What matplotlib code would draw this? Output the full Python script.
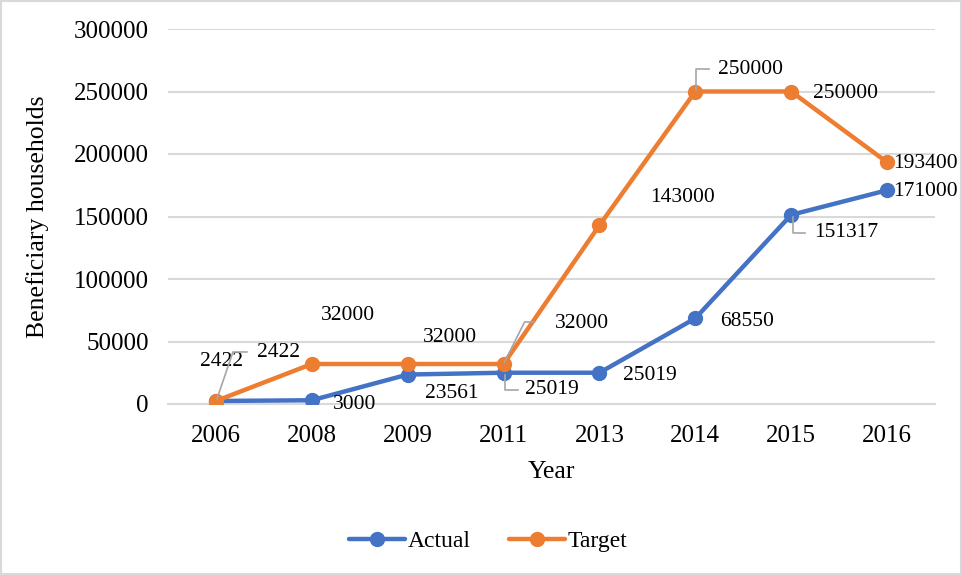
import matplotlib
matplotlib.use("Agg")
import matplotlib.pyplot as plt
from matplotlib.lines import Line2D
from matplotlib.patches import Rectangle

years = ["2006", "2008", "2009", "2011", "2013", "2014", "2015", "2016"]
actual = [2422, 3000, 23561, 25019, 25019, 68550, 151317, 171000]
target = [2422, 32000, 32000, 32000, 143000, 250000, 250000, 193400]
yticks = [0, 50000, 100000, 150000, 200000, 250000, 300000]

BLUE = "#4472C4"
ORANGE = "#ED7D31"
GRAY = "#D9D9D9"
LEAD = "#A6A6A6"

plt.rcParams["font.family"] = ["Liberation Serif", "DejaVu Serif"]

fig = plt.figure(figsize=(9.62, 5.75), dpi=100)
ax = fig.add_axes([168/962, 1-404/575, (935-168)/962, (404-29)/575])

x = list(range(len(years)))
ax.plot(x, actual, color=BLUE, lw=3.2, marker="o", ms=10, label="Actual", zorder=3,
        solid_capstyle="round")
ax.plot(x, target, color=ORANGE, lw=3.2, marker="o", ms=10, label="Target", zorder=4,
        solid_capstyle="round")

ax.set_xlim(-0.5, len(years)-0.5)
ax.set_ylim(0, 300000)
ax.set_yticks(yticks)
ax.set_yticklabels([str(v) for v in yticks])
ax.set_xticks(x)
ax.set_xticklabels(years)
ax.tick_params(axis="both", length=0, labelsize=18, colors="black")
ax.tick_params(axis="y", pad=14)
ax.tick_params(axis="x", pad=15)
ax.grid(axis="y", color=GRAY, lw=1.5)
ax.set_axisbelow(True)
for s in ["top", "right", "left"]:
    ax.spines[s].set_visible(False)
ax.spines["bottom"].set_color(GRAY)
ax.spines["bottom"].set_linewidth(1.5)

ax.set_xlabel("Year", fontsize=18.5, labelpad=10)
ax.set_ylabel("Beneficiary households", fontsize=18.5, labelpad=18)

# data labels: offsets in pixels (dx, dy up)
a_off = [(6, 39), (43, -4), (44, -19), (48, -17), (50, -3), (52, -3), (55, -18), (29, -1)]
t_off = [(63, 48), (36, 48), (42, 27), (78, 41), (83, 28), (55, 21.5), (54, -1.5), (29, -1)]
for i in x:
    ha = "left" if i == 7 else "center"
    dxa = 6 if i == 7 else a_off[i][0]
    dxt = 6 if i == 7 else t_off[i][0]
    ax.annotate(str(actual[i]), (i, actual[i]), xytext=(dxa, a_off[i][1]),
                textcoords="offset pixels", ha=ha, va="center", fontsize=15.5)
    ax.annotate(str(target[i]), (i, target[i]), xytext=(dxt, t_off[i][1]),
                textcoords="offset pixels", ha=ha, va="center", fontsize=15.5)

# leader lines (pixel offsets from point)
def leader(i, v, pts):
    px, py = ax.transData.transform((i, v))
    xs = [px + p[0] for p in pts]
    ys = [py + p[1] for p in pts]
    fig.add_artist(Line2D(xs, ys, transform=None, color=LEAD, lw=1.2, zorder=5))

leader(0, actual[0], [(1, 2), (17, 49), (31, 49)])
leader(3, actual[3], [(1, -2), (1, -17), (14, -17)])
leader(3, target[3], [(1, 2), (21, 42), (31, 42)])
leader(5, target[5], [(1, 2), (1, 23), (14, 23)])
leader(6, actual[6], [(2, -2), (2, -18), (14, -18)])

fig.legend(loc="center", bbox_to_anchor=(488/962, 1-541/575), ncol=2, frameon=False,
           fontsize=17, handlelength=2.4, columnspacing=1.6, handletextpad=0.1)

fig.add_artist(Rectangle((0.001, 0.001), 0.998, 0.998, transform=fig.transFigure,
                         fill=False, edgecolor=GRAY, lw=1.5))

fig.savefig("out.png", dpi=100)
